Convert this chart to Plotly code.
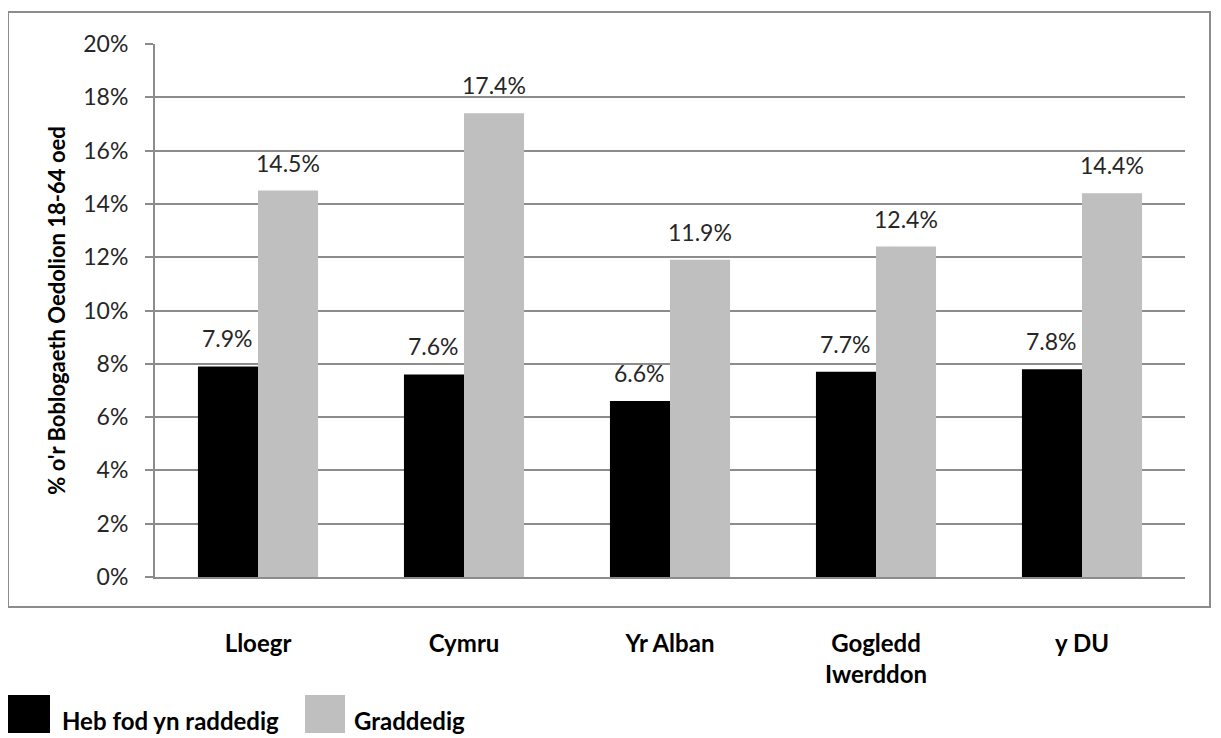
import plotly.graph_objects as go

categories = ["Lloegr", "Cymru", "Yr Alban", "Gogledd<br>Iwerddon", "y DU"]
heb_fod = [7.9, 7.6, 6.6, 7.7, 7.8]
graddedig = [14.5, 17.4, 11.9, 12.4, 14.4]
series_names = ["Heb fod yn raddedig", "Graddedig"]
colors = ["#000000", "#bfbfbf"]
y_ticks = [0, 2, 4, 6, 8, 10, 12, 14, 16, 18, 20]
y_ticktext = ["0%", "2%", "4%", "6%", "8%", "10%", "12%", "14%", "16%", "18%", "20%"]

# page body has an 8px margin, so the figure is drawn 8px in from the corner
OFF = 8
W, H = 1221 - OFF, 738 - OFF
ml, mr, mt, mb = 155 - OFF, 36, 44 - OFF, 161
bargap = 0.417
font = "Lato"

fig = go.Figure()
for name, vals, col in zip(series_names, [heb_fod, graddedig], colors):
    fig.add_trace(go.Bar(x=categories, y=vals, name=name, marker_color=col,
                         marker_line_width=0, showlegend=False))

# data labels above each bar
plot_w = W - ml - mr
plot_h = H - mt - mb
bar_w = plot_w / len(categories) * (1 - bargap) / 2
for i, vals in enumerate([heb_fod, graddedig]):
    shift = (i - 0.5) * bar_w
    for c, v in zip(categories, vals):
        fig.add_annotation(x=c, y=v, text=f"{v:.1f}%", showarrow=False,
                           xshift=shift, yshift=28, yanchor="middle",
                           font=dict(family=font, size=23, color="#262626"))

# helpers: screen pixel -> paper coords
def px(x):
    return (x - (ml + OFF)) / plot_w
def py(y):
    return (mt + OFF + plot_h - y) / plot_h

# outer border
fig.add_shape(type="rect", xref="paper", yref="paper",
              x0=px(8), x1=px(1210), y0=py(607), y1=py(12),
              line=dict(color="#8c8c8c", width=2), layer="below")

# legend drawn by hand (big square swatches)
leg = [(8, 50, 60), (305, 345, 352)]
for (sx0, sx1, tx), name, col in zip(leg, series_names, colors):
    fig.add_shape(type="rect", xref="paper", yref="paper",
                  x0=px(sx0), x1=px(sx1), y0=py(733), y1=py(695),
                  fillcolor=col, line_width=0)
    fig.add_annotation(xref="paper", yref="paper", x=px(tx), y=py(720),
                       text=name, showarrow=False, xanchor="left", yanchor="middle",
                       font=dict(family=font, size=24, color="#000000", weight="bold"))

fig.update_layout(
    width=W, height=H,
    margin=dict(l=ml, r=mr, t=mt, b=mb),
    barmode="group", bargap=bargap, bargroupgap=0,
    plot_bgcolor="white", paper_bgcolor="white",
    font=dict(family=font, color="#262626"),
)
fig.update_yaxes(
    range=[0, 20], tickvals=y_ticks, ticktext=y_ticktext,
    showgrid=True, gridcolor="#8c8c8c", gridwidth=2,
    showline=True, linecolor="#8c8c8c", linewidth=2,
    ticks="outside", ticklen=8, tickcolor="#8c8c8c", tickwidth=2,
    ticklabelstandoff=12,
    tickfont=dict(size=23, color="#262626"),
    title=dict(text="% o'r Boblogaeth Oedolion 18-64 oed", standoff=12,
               font=dict(size=22, color="#000000", weight="bold")),
    zeroline=False,
)
fig.update_xaxes(
    showline=True, linecolor="#8c8c8c", linewidth=2,
    ticks="", ticklabelstandoff=44,
    tickfont=dict(size=24, color="#000000", weight="bold"),
)

fig.write_html("out.html")
